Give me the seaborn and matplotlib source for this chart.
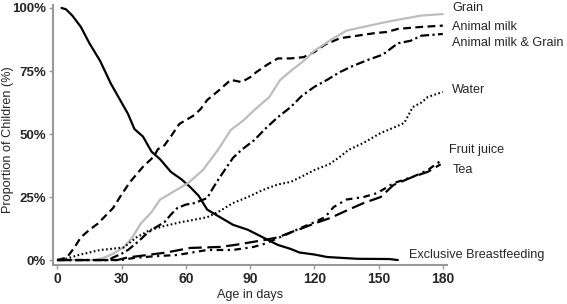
import matplotlib
matplotlib.use("Agg")
import matplotlib.pyplot as plt
import seaborn as sns
import pandas as pd

# values (age in days, % of children)
ebf_days = [2, 4, 7, 11, 15, 20, 25, 29, 33, 36, 40, 44, 48, 53, 58, 62, 66, 70, 76, 82, 89, 96, 103, 109, 113, 120, 126, 140, 155, 159]
ebf_pct = [100, 99.5, 97, 92.5, 86, 79, 70, 64, 58, 52, 49, 43, 40, 35, 32, 29, 25.5, 20, 17, 14, 12, 9, 6, 4.4, 3, 2.2, 1.2, 0.5, 0.4, 0]

milk_days = [0, 4.5, 8, 11, 15, 19, 23, 26, 30, 34, 37, 40, 45, 47, 50, 53, 57, 60, 64, 67, 70, 75, 81, 86, 90, 93, 98, 103, 109, 115, 120, 125, 132, 140, 148, 154, 159, 170, 180]
milk_pct = [0, 1, 5, 9, 12, 14.5, 18, 20.6, 26, 31, 34, 37, 41, 44, 45.5, 49, 54, 55.5, 57.5, 60, 63.5, 67, 71.5, 70.6, 72.5, 74.6, 77.5, 80, 80, 80.5, 82.5, 85.5, 88, 89, 90, 90.5, 91.7, 92.5, 93]

grain_days = [0, 18, 22, 26, 31, 35, 39, 44, 48, 54, 61, 68, 75, 81, 87, 92, 99, 104, 109, 115, 120, 128, 135, 143, 151, 160, 170, 180]
grain_pct = [0, 0, 1, 2.5, 5, 9, 14.5, 19, 24, 27, 30.5, 35.7, 43.7, 51.6, 55.5, 59.5, 64.7, 71.4, 75, 79, 83, 87.5, 91, 92.5, 94, 95.5, 97, 97.6]

mixed_days = [0, 24, 26, 30, 33, 38, 42, 46, 50, 53, 56, 60, 64, 70, 73, 76, 82, 86, 92, 97, 103, 109, 114, 120, 126, 132, 138, 145, 152, 159, 165, 170, 180]
mixed_pct = [0, 0, 1, 2.5, 4, 7.5, 10.7, 13, 15, 18, 20.6, 22, 22.6, 24.6, 29, 33, 40.5, 43.7, 47.6, 52, 56.7, 60.7, 65, 68.7, 71.5, 74.6, 77, 79.4, 81.5, 86, 87, 89, 89.7]

water_days = [0, 4, 10, 15, 20, 26, 31, 37, 43.5, 50, 57.5, 64, 70, 76, 82, 89, 96, 103, 109, 115, 120, 127, 132, 136, 143, 151, 157, 162, 166, 170, 173, 180]
water_pct = [0, 0.5, 2, 3, 4, 4.5, 5, 9, 12, 13.5, 15, 16, 17, 19.5, 22.6, 25, 27.8, 30, 31, 33.5, 35.7, 38, 41, 43.7, 46.5, 50.4, 52.5, 54.4, 60.7, 62.5, 64.7, 66.7]

juice_days = [0, 30, 35.5, 45, 56, 63, 70, 82, 91.6, 97, 103, 108, 113.5, 120, 125, 129, 135, 143, 149.5, 157, 166, 173, 180]
juice_pct = [0, 0, 0.8, 1.5, 2, 3, 4, 4, 5.2, 6.5, 8.7, 10.5, 12.7, 15, 17, 21, 24, 25, 26.6, 30.5, 33, 35.7, 40]

tea_days = [0, 28, 32.7, 42, 51, 62, 69, 76, 83, 90, 97, 103, 109, 114, 120, 127.5, 135.5, 143, 151, 157, 166, 173, 179]
tea_pct = [0, 0, 1, 2, 3, 4.8, 5, 5.2, 6, 7, 8, 9, 11, 12.5, 14.5, 16.7, 19.8, 22.6, 25, 29.8, 33, 35, 38]

series = [
    ("Exclusive Breastfeeding", ebf_days, ebf_pct),
    ("Animal milk", milk_days, milk_pct),
    ("Grain", grain_days, grain_pct),
    ("Animal milk & Grain", mixed_days, mixed_pct),
    ("Water", water_days, water_pct),
    ("Fruit juice", juice_days, juice_pct),
    ("Tea", tea_days, tea_pct),
]

styles = {
    "Exclusive Breastfeeding": dict(color="black", linestyle="-", lw=1.6),
    "Animal milk": dict(color="black", linestyle=(0, (3.5, 2)), lw=1.6),
    "Grain": dict(color="#bdbdbd", linestyle="-", lw=1.6),
    "Animal milk & Grain": dict(color="black", linestyle=(0, (4, 1.5, 1, 1.5)), lw=1.6),
    "Water": dict(color="black", linestyle=(0, (0.8, 1.2)), lw=1.5),
    "Fruit juice": dict(color="black", linestyle=(0, (3, 2, 1, 2)), lw=1.6),
    "Tea": dict(color="black", linestyle=(0, (6, 2.5)), lw=1.6),
}

# where each series name sits (x in days, y in %)
label_pos = {
    "Grain": (184.5, 100),
    "Animal milk": (184.5, 92.5),
    "Animal milk & Grain": (184.5, 86),
    "Water": (184.5, 67.5),
    "Fruit juice": (183, 43.6),
    "Tea": (184.5, 35.7),
    "Exclusive Breastfeeding": (164, 2),
}

sns.set_theme(style="white")
plt.rcParams["font.family"] = ["Liberation Sans", "DejaVu Sans"]

fig = plt.figure(figsize=(5.67, 3.04), dpi=100)
ax = fig.add_axes([0.0935, 0.128, 0.695, 0.854])

for name, days, pct in series:
    df = pd.DataFrame({"day": days, "pct": pct})
    st = styles[name]
    sns.lineplot(data=df, x="day", y="pct", ax=ax, color=st["color"],
                 linestyle=st["linestyle"], linewidth=st["lw"], estimator=None)
    lx, ly = label_pos[name]
    ax.text(lx, ly, name, fontsize=9.1, va="center", ha="left", clip_on=False)

ax.set_xlim(-2, 182)
ax.set_ylim(-2, 101)
ax.set_xticks([0, 30, 60, 90, 120, 150, 180])
ax.set_xticklabels(["0", "30", "60", "90", "120", "150", "180"], fontweight="bold", fontsize=10)
ax.set_yticks([0, 25, 50, 75, 100])
ax.set_yticklabels(["0%", "25%", "50%", "75%", "100%"], fontweight="bold", fontsize=9.5)
ax.tick_params(axis="both", length=3, width=1, color="#999999", pad=2, direction="out")
ax.tick_params(axis="x", bottom=True)
ax.tick_params(axis="y", left=True)
ax.set_xlabel("Age in days", fontsize=9.1, labelpad=2)
ax.set_ylabel("Proportion of Children (%)", fontsize=9.1, va="center")
ax.yaxis.set_label_coords(-0.115, 0.485)

for side in ["top", "right"]:
    ax.spines[side].set_visible(False)
for side in ["left", "bottom"]:
    ax.spines[side].set_color("#999999")
    ax.spines[side].set_linewidth(1.5)

fig.savefig("out.png", dpi=100)
